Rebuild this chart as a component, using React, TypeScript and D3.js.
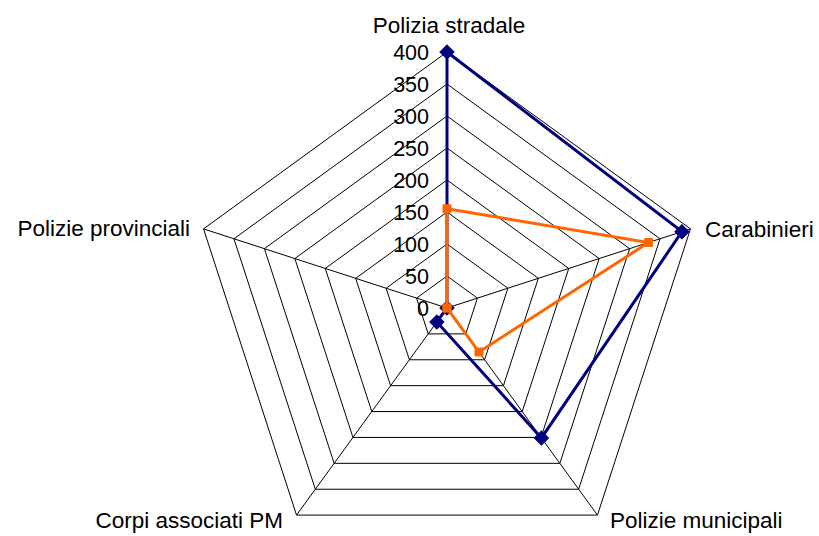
import React, { useRef, useEffect } from "react";
import * as d3 from "d3";

const categories = [
  "Polizia stradale",
  "Carabinieri",
  "Polizie municipali",
  "Corpi associati PM",
  "Polizie provinciali",
];
const blueValues = [400, 386, 251, 27, 0];
const orangeValues = [155, 331, 85, 0, 0];
const tickValues = [0, 50, 100, 150, 200, 250, 300, 350, 400];

const width = 819;
const height = 536;

export default function App() {
  const svgRef = useRef<SVGSVGElement>(null);

  useEffect(() => {
    if (!svgRef.current) return;
    const svg = d3.select(svgRef.current);
    svg.selectAll("*").remove();

    const cx = 447;
    const cy = 308;
    const r = d3.scaleLinear().domain([0, 400]).range([0, 256]);
    const n = categories.length;
    const angle = (i: number) => (i * 2 * Math.PI) / n;
    const pt = (i: number, v: number): [number, number] => [
      cx + r(v) * Math.sin(angle(i)),
      cy - r(v) * Math.cos(angle(i)),
    ];

    const g = svg.append("g");
    const font = "'Liberation Sans', Arial, sans-serif";

    // grid rings
    tickValues.slice(1).forEach((t) => {
      const pts = categories.map((_, i) => pt(i, t));
      g.append("polygon")
        .attr("points", pts.map((p) => p.join(",")).join(" "))
        .attr("fill", "none")
        .attr("stroke", "#000")
        .attr("stroke-width", 1);
    });

    // spokes
    categories.forEach((_, i) => {
      const [x, y] = pt(i, 400);
      g.append("line")
        .attr("x1", cx)
        .attr("y1", cy)
        .attr("x2", x)
        .attr("y2", y)
        .attr("stroke", "#000")
        .attr("stroke-width", 1);
    });

    // tick labels
    tickValues.forEach((t) => {
      g.append("text")
        .attr("x", cx - 18)
        .attr("y", cy - r(t))
        .attr("dy", "0.36em")
        .attr("text-anchor", "end")
        .style("font-family", font)
        .style("font-size", "21.5px")
        .text(t);
    });

    // category labels
    const labelPos: [number, number, string][] = [
      [449, 33, "middle"],
      [705, 237, "start"],
      [610, 528, "start"],
      [283, 528, "end"],
      [190, 236, "end"],
    ];
    categories.forEach((c, i) => {
      const [x, y, anchor] = labelPos[i];
      g.append("text")
        .attr("x", x)
        .attr("y", y)
        .attr("text-anchor", anchor)
        .style("font-family", font)
        .style("font-size", "22.5px")
        .text(c);
    });

    const line = d3
      .line<[number, number]>()
      .x((d) => d[0])
      .y((d) => d[1])
      .curve(d3.curveLinearClosed);

    const drawSeries = (
      values: number[],
      color: string,
      rotate: number,
      size: number
    ) => {
      const pts = values.map((v, i) => pt(i, v));
      g.append("path")
        .attr("d", line(pts))
        .attr("fill", "none")
        .attr("stroke", color)
        .attr("stroke-width", 3);
      const sym = d3.symbol().type(d3.symbolSquare).size(size);
      pts.forEach(([x, y]) => {
        g.append("path")
          .attr("d", sym())
          .attr("transform", `translate(${x},${y}) rotate(${rotate})`)
          .attr("fill", color)
          .attr("stroke", color);
      });
    };

    drawSeries(blueValues, "#000080", 45, 100);
    drawSeries(orangeValues, "#FF6600", 0, 64);
  }, []);

  return (
    <svg
      ref={svgRef}
      width={width}
      height={height}
      style={{ display: "block", position: "absolute", left: 0, top: 0, background: "#fff" }}
    />
  );
}
